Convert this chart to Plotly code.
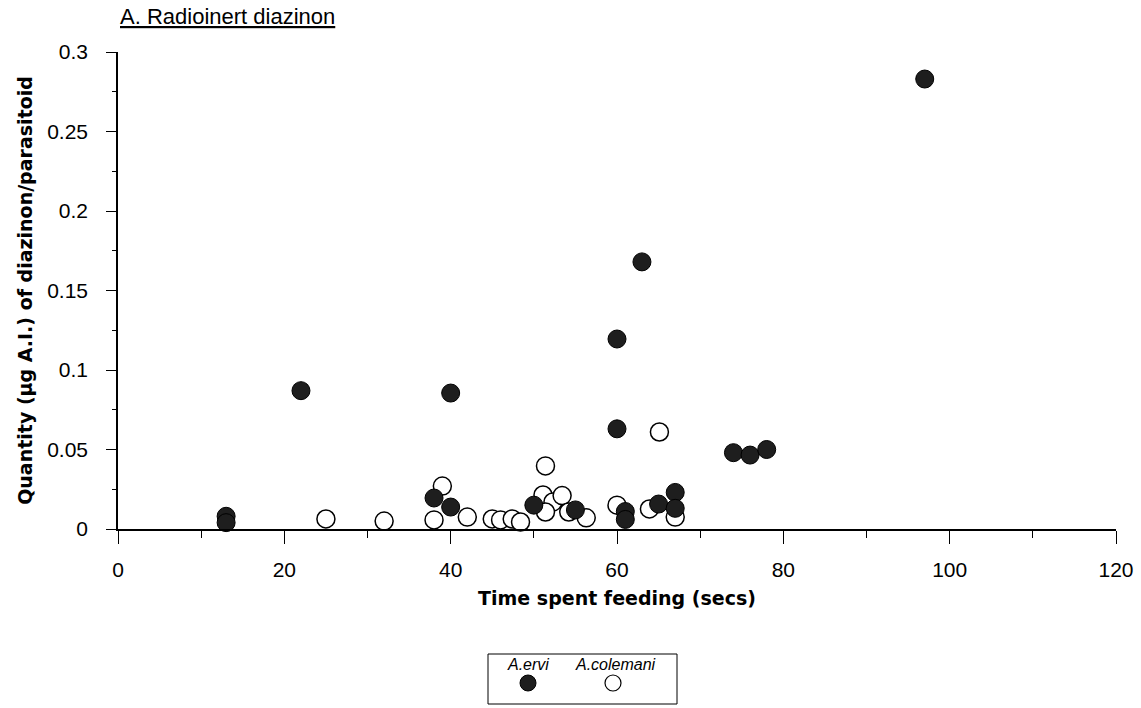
import plotly.graph_objects as go

# A. ervi (filled)
ervi_x = [13, 13, 22, 38, 40, 40, 50, 55, 60, 60, 61, 61, 63, 65, 67, 67, 74, 76, 78, 97]
ervi_y = [0.008, 0.004, 0.087, 0.0195, 0.0855, 0.0138, 0.015, 0.012, 0.1195, 0.063,
          0.011, 0.006, 0.168, 0.0157, 0.023, 0.013, 0.048, 0.0465, 0.050, 0.283]

# A. colemani (open)
colemani_x = [25, 32, 38, 39, 42, 45, 46, 47.4, 48.4, 51.4, 51.1, 52.3, 53.4, 51.4, 54.2,
              56.3, 60, 63.9, 65.1, 67]
colemani_y = [0.0063, 0.005, 0.0057, 0.027, 0.0075, 0.0063, 0.0057, 0.0063, 0.0044, 0.0397,
              0.0214, 0.017, 0.021, 0.0107, 0.0107, 0.007, 0.015, 0.0126, 0.061, 0.0075]

x_ticks = [0, 20, 40, 60, 80, 100, 120]
y_ticks = [0, 0.05, 0.1, 0.15, 0.2, 0.25, 0.3]
y_tick_text = ["0", "0.05", "0.1", "0.15", "0.2", "0.25", "0.3"]

FONT = "Arial, Liberation Sans, sans-serif"
TITLE_FONT = dict(family="DejaVu Sans, sans-serif", size=19, weight="bold", color="black")

fig = go.Figure()
fig.add_trace(go.Scatter(x=colemani_x, y=colemani_y, mode="markers", name="A.colemani",
                         marker=dict(size=18, color="white", line=dict(color="black", width=1.5)),
                         cliponaxis=False, showlegend=False))
fig.add_trace(go.Scatter(x=ervi_x, y=ervi_y, mode="markers", name="A.ervi",
                         marker=dict(size=18, color="#1e1e1e", line=dict(color="black", width=1)),
                         cliponaxis=False, showlegend=False))

fig.update_layout(
    width=1141, height=708,
    margin=dict(l=118, r=25, t=52, b=179, autoexpand=False),
    paper_bgcolor="white", plot_bgcolor="white",
    font=dict(family=FONT, size=21, color="black"),
    xaxis=dict(range=[0, 120], tickvals=x_ticks, ticks="outside", ticklen=13, tickcolor="black",
               ticklabelstandoff=8, automargin=False,
               showline=True, linecolor="black", linewidth=1.5, showgrid=False, zeroline=False,
               minor=dict(dtick=10, tick0=0, ticks="outside", ticklen=7, tickcolor="black"),
               title=dict(text="Time spent feeding (secs)", font=TITLE_FONT, standoff=12)),
    yaxis=dict(range=[0, 0.3], tickvals=y_ticks, ticktext=y_tick_text, ticks="outside", ticklen=10,
               tickcolor="black", showline=True, linecolor="black", linewidth=1.5, showgrid=False,
               zeroline=False, ticklabelstandoff=14, automargin=False,
               minor=dict(dtick=0.025, tick0=0, ticks="outside", ticklen=4, tickcolor="black"),
               title=dict(text="Quantity (µg A.I.) of diazinon/parasitoid", font=TITLE_FONT,
                          standoff=10)),
    annotations=[
        dict(text="<u>A. Radioinert diazinon</u>", xref="paper", yref="paper", x=0.0, y=1.0,
             xanchor="left", yanchor="bottom", yshift=21, showarrow=False, font=dict(size=22)),
        dict(text="<i>A.ervi</i>", x=(528 - 118) / 998, y=-(664 - 529) / 477, xref="paper", yref="paper",
             showarrow=False, font=dict(size=16), xanchor="center", yanchor="middle"),
        dict(text="<i>A.colemani</i>", x=(615 - 118) / 998, y=-(664 - 529) / 477, xref="paper",
             yref="paper", showarrow=False, font=dict(size=16), xanchor="center", yanchor="middle"),
    ],
    shapes=[
        dict(type="rect", xref="paper", yref="paper", x0=(488 - 118) / 998, x1=(677 - 118) / 998,
             y0=-(704 - 529) / 477, y1=-(654 - 529) / 477, line=dict(color="black", width=1)),
        dict(type="circle", xref="paper", yref="paper", x0=(520 - 118) / 998, x1=(536 - 118) / 998,
             y0=-(691 - 529) / 477, y1=-(675 - 529) / 477, fillcolor="#1e1e1e",
             line=dict(color="black", width=1)),
        dict(type="circle", xref="paper", yref="paper", x0=(605 - 118) / 998, x1=(621 - 118) / 998,
             y0=-(691 - 529) / 477, y1=-(675 - 529) / 477, fillcolor="white",
             line=dict(color="black", width=1.2)),
    ],
)

fig.write_html("out.html")
